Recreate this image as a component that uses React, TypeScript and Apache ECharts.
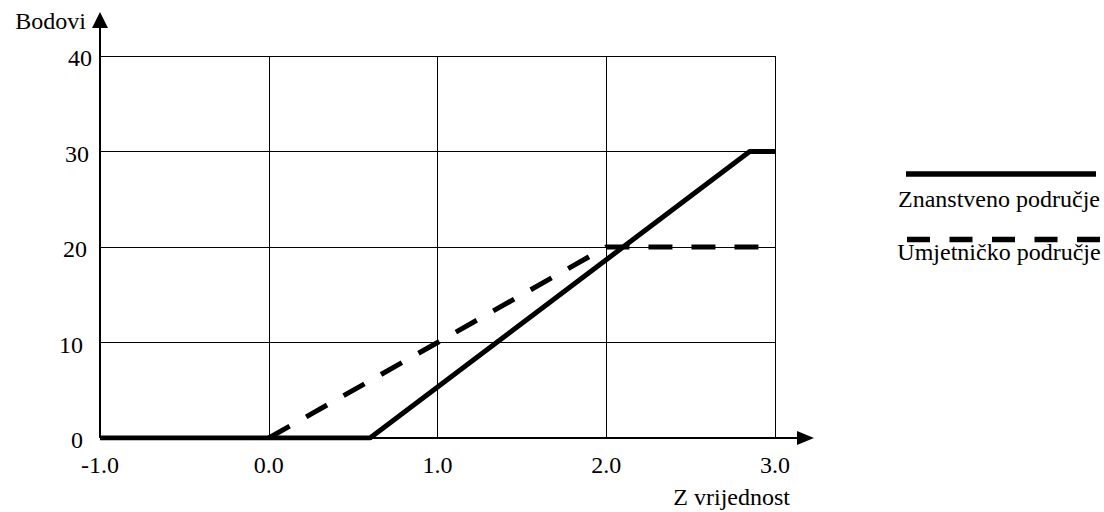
import React, { useEffect, useRef } from "react";
import * as echarts from "echarts";

const xTicks = [-1, 0, 1, 2, 3];
const yTicks = [0, 10, 20, 30, 40];
const seriesNames = ["Znanstveno područje", "Umjetničko područje"];
const znanstveno: [number, number][] = [
  [-1, 0],
  [0.6, 0],
  [2.85, 30],
  [3.0, 30],
];
const umjetnicko: [number, number][] = [
  [0, 0],
  [2, 20],
  [3.0, 20],
];
const xName = "Z vrijednost";
const yName = "Bodovi";

const W = 1104;
const H = 512;
const GL = 100;
const GT = 56;
const GR = 329;
const GB = 74;
const FONT = "Liberation Serif";
const FS = 24;
// extra right padding of each y tick label (layout only)
const yLabelPad: Record<number, number> = { 0: 9, 10: 9, 20: 5, 30: 3, 40: 0 };

export default function App() {
  const ref = useRef<HTMLDivElement>(null);
  useEffect(() => {
    document.body.style.margin = "0";
    const chart = echarts.init(ref.current!, null, { renderer: "svg" });
    const axisY = H - GB;
    const txt = (text: string, x: number, y: number, align: string) => ({
      type: "text",
      x,
      y,
      style: {
        text,
        fontFamily: FONT,
        fontSize: FS,
        fill: "#000",
        align,
        verticalAlign: "middle",
      },
    });
    const rich: any = {};
    yTicks.forEach((t) => {
      rich["v" + t] = {
        fontFamily: FONT,
        fontSize: FS,
        color: "#000",
        padding: [4, yLabelPad[t] || 0, 0, 0],
      };
    });
    const option: any = {
      animation: false,
      backgroundColor: "#fff",
      textStyle: { fontFamily: FONT, fontSize: FS },
      grid: { left: GL, top: GT, right: GR, bottom: GB },
      xAxis: {
        type: "value",
        min: xTicks[0],
        max: xTicks[xTicks.length - 1],
        interval: 1,
        axisLine: { show: false },
        axisTick: { show: false },
        splitLine: { show: true, lineStyle: { color: "#000", width: 1 } },
        axisLabel: {
          color: "#000",
          fontFamily: FONT,
          fontSize: FS,
          margin: 15,
          formatter: (v: number) => v.toFixed(1),
        },
      },
      yAxis: {
        type: "value",
        min: yTicks[0],
        max: yTicks[yTicks.length - 1],
        interval: 10,
        axisLine: { show: false },
        axisTick: { show: false },
        splitLine: { show: true, lineStyle: { color: "#000", width: 1 } },
        axisLabel: {
          color: "#000",
          fontFamily: FONT,
          fontSize: FS,
          margin: 8,
          formatter: (v: number) => `{v${v}|${v}}`,
          rich,
        },
      },
      series: [
        {
          name: seriesNames[0],
          type: "line",
          data: znanstveno,
          symbol: "none",
          z: 5,
          lineStyle: { color: "#000", width: 5 },
        },
        {
          name: seriesNames[1],
          type: "line",
          data: umjetnicko,
          symbol: "none",
          z: 4,
          lineStyle: { color: "#000", width: 5, type: [24, 19] },
        },
      ],
      graphic: [
        {
          type: "line",
          z: 3,
          shape: { x1: GL, y1: axisY, x2: 800, y2: axisY },
          style: { stroke: "#000", lineWidth: 2 },
        },
        {
          type: "polygon",
          z: 3,
          shape: { points: [[797, axisY - 7], [814, axisY], [797, axisY + 7]] },
          style: { fill: "#000" },
        },
        {
          type: "line",
          z: 3,
          shape: { x1: GL, y1: axisY, x2: GL, y2: 26 },
          style: { stroke: "#000", lineWidth: 2 },
        },
        {
          type: "polygon",
          z: 3,
          shape: { points: [[GL - 8, 28], [GL, 12], [GL + 8, 28]] },
          style: { fill: "#000" },
        },
        txt(yName, 86, 21, "right"),
        txt(xName, 790, 497, "right"),
        {
          type: "line",
          shape: { x1: 906, y1: 174, x2: 1096, y2: 174 },
          style: { stroke: "#000", lineWidth: 5.5 },
        },
        txt(seriesNames[0], 999, 199, "center"),
        {
          type: "line",
          shape: { x1: 907, y1: 239.5, x2: 1100, y2: 239.5 },
          style: { stroke: "#000", lineWidth: 5.5, lineDash: [23, 19.5] },
        },
        txt(seriesNames[1], 999, 252, "center"),
      ],
    };
    chart.setOption(option);
    return () => chart.dispose();
  }, []);
  return <div ref={ref} style={{ width: W, height: H }} />;
}
